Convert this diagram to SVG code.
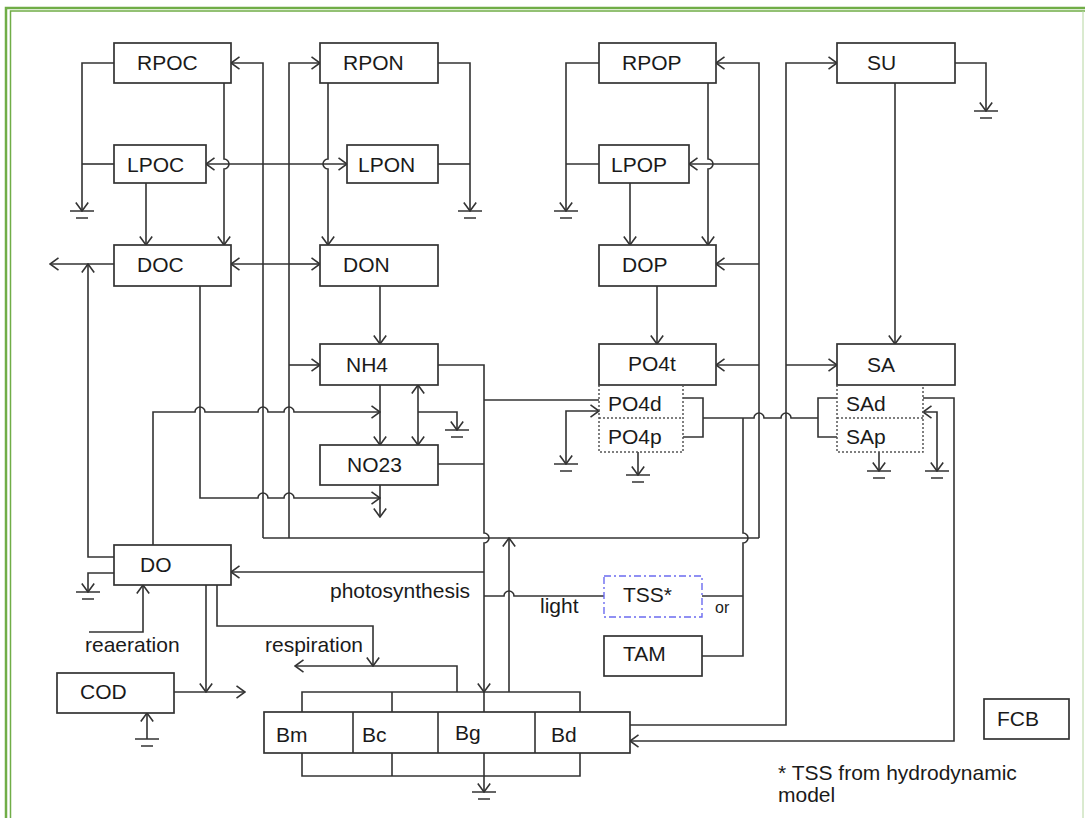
<svg xmlns="http://www.w3.org/2000/svg" width="1085" height="818" viewBox="0 0 1085 818">
<style>
.b{fill:#fff;stroke:#333;stroke-width:1.7}
.d{fill:none;stroke:#555;stroke-width:1.5;stroke-dasharray:2,2}
.c{fill:none;stroke:#333;stroke-width:1.6}
.a{marker-end:url(#ah)}
.s{marker-start:url(#ah)}
.t{font-family:"Liberation Sans",Arial,sans-serif;font-size:21px;fill:#1a1a1a}
.g{fill:none;stroke:#333;stroke-width:1.6}
</style>
<defs>
<marker id="ah" markerUnits="userSpaceOnUse" markerWidth="12" markerHeight="14" viewBox="0 0 12 14" refX="11" refY="7" orient="auto-start-reverse">
<path d="M2.5,0.8 L11,7 L2.5,13.2" fill="none" stroke="#333" stroke-width="1.6"/>
</marker>
<path id="gnd" d="M-12,0 H12 M-6,7 H6" class="g"/>
</defs>
<rect width="1085" height="818" fill="#fff"/>
<g id="border" fill="none" stroke="#70ad47">
<path d="M6,818 V8 H1085" stroke-width="2.5"/>
<path d="M10.5,818 V11 H1085" stroke-width="1.5"/>
<path d="M1083,11 V818" stroke-width="1" stroke="#b5d6a0"/>
</g>
<g id="connectors">
<path class="c a" d="M114,63 H82 V211"/>
<path class="c" d="M114,164 H82"/>
<path class="c a" d="M224,83 V159 A5,5 0 0 1 224,169 V245"/>
<path class="c a" d="M146,183 V245"/>
<path class="c a" d="M263,538 V63 H231"/>
<path class="c a" d="M289,164 H206"/>
<path class="c a" d="M289,164 H347"/>
<path class="c a" d="M328,83 V159 A5,5 0 0 0 328,169 V245"/>
<path class="c a" d="M289,264 H231"/>
<path class="c a" d="M289,264 H320"/>
<path class="c a" d="M289,538 V63 H320"/>
<path class="c a" d="M289,365 H320"/>
<path class="c a" d="M438,63 H470 V211"/>
<path class="c" d="M438,164 H470"/>
<path class="c a" d="M114,264 H50"/>
<path class="c a" d="M114,557 H88 V264"/>
<path class="c a" d="M114,573 H88 V592"/>
<path class="c a" d="M153,545 V412 H195 A5,5 0 0 1 205,412 H258 A5,5 0 0 1 268,412 H284 A5,5 0 0 1 294,412 H380"/>
<path class="c a" d="M200,286 V498 H258 A5,5 0 0 1 268,498 H284 A5,5 0 0 1 294,498 H380"/>
<path class="c a" d="M380,286 V344"/>
<path class="c a" d="M380,385 V445"/>
<path class="c a" d="M380,485 V517"/>
<path class="c a s" d="M418,385 V445"/>
<path class="c a" d="M418,412 H457 V430"/>
<path class="c a" d="M438,365 H484 V533 A5,5 0 0 1 484,543 V692"/>
<path class="c" d="M438,464 H484"/>
<path class="c" d="M484,400 H599"/>
<path class="c a" d="M484,572 H231"/>
<path class="c" d="M484,596 H504 A5,5 0 0 1 514,596 H604"/>
<path class="c" d="M263,538 H759"/>
<path class="c a" d="M759,538 V63 H716"/>
<path class="c a" d="M759,164 H689"/>
<path class="c a" d="M759,264 H716"/>
<path class="c a" d="M759,365 H716"/>
<path class="c a" d="M509,692 V538"/>
<path class="c a" d="M599,63 H566 V211"/>
<path class="c" d="M599,164 H566"/>
<path class="c a" d="M708,83 V159 A5,5 0 0 1 708,169 V245"/>
<path class="c a" d="M630,183 V245"/>
<path class="c a" d="M657,286 V344"/>
<path class="c a s" d="M566,464 V411 H599"/>
<path class="c a" d="M638,452 V475"/>
<path class="c" d="M683,398 H703 V437 H683"/>
<path class="c" d="M703,418 H754 A5,5 0 0 1 764,418 H781 A5,5 0 0 1 791,418 H818"/>
<path class="c" d="M837,398 H818 V437 H837"/>
<path class="c" d="M743,418 V533 A5,5 0 0 1 743,543 V656 H702"/>
<path class="c" d="M702,596 H743"/>
<path class="c a" d="M630,725 H786 V63 H837"/>
<path class="c a" d="M786,365 H837"/>
<path class="c a" d="M955,63 H986 V111"/>
<path class="c a" d="M895,83 V344"/>
<path class="c a" d="M879,452 V471"/>
<path class="c a s" d="M937,471 V412 H923"/>
<path class="c a" d="M923,398 H954 V741 H630"/>
<path class="c a" d="M89,632 H143 V585"/>
<path class="c a" d="M206,585 V692"/>
<path class="c a" d="M174,692 H245"/>
<path class="c a" d="M217,585 V626 H373 V666"/>
<path class="c a" d="M457,692 V666 H295"/>
<path class="c a" d="M147,739 V713"/>
<path class="c" d="M302,712 V692 H580 V712 M392,692 V712 M484,692 V712"/>
<path class="c" d="M302,753 V776 H580 V753 M392,776 V753"/>
<path class="c a" d="M484,753 V792"/>
<use href="#gnd" x="82" y="211"/>
<use href="#gnd" x="470" y="211"/>
<use href="#gnd" x="566" y="211"/>
<use href="#gnd" x="986" y="111"/>
<use href="#gnd" x="457" y="430"/>
<use href="#gnd" x="566" y="464"/>
<use href="#gnd" x="638" y="475"/>
<use href="#gnd" x="879" y="471"/>
<use href="#gnd" x="937" y="471"/>
<use href="#gnd" x="88" y="592"/>
<use href="#gnd" x="147" y="739"/>
<use href="#gnd" x="484" y="792"/>
</g>
<g id="RPOC"><rect class="b" x="114" y="43" width="117" height="40"/><text class="t" x="137" y="70">RPOC</text></g>
<g id="LPOC"><rect class="b" x="114" y="145" width="92" height="38"/><text class="t" x="127" y="172">LPOC</text></g>
<g id="DOC"><rect class="b" x="114" y="245" width="117" height="41"/><text class="t" x="137" y="272">DOC</text></g>
<g id="RPON"><rect class="b" x="320" y="43" width="118" height="40"/><text class="t" x="343" y="70">RPON</text></g>
<g id="LPON"><rect class="b" x="347" y="145" width="91" height="38"/><text class="t" x="358" y="172">LPON</text></g>
<g id="DON"><rect class="b" x="320" y="245" width="118" height="41"/><text class="t" x="343" y="272">DON</text></g>
<g id="RPOP"><rect class="b" x="599" y="43" width="117" height="40"/><text class="t" x="622" y="70">RPOP</text></g>
<g id="LPOP"><rect class="b" x="599" y="145" width="90" height="38"/><text class="t" x="611" y="172">LPOP</text></g>
<g id="DOP"><rect class="b" x="599" y="245" width="117" height="41"/><text class="t" x="622" y="272">DOP</text></g>
<g id="SU"><rect class="b" x="837" y="43" width="118" height="40"/><text class="t" x="867" y="70">SU</text></g>
<g id="NH4"><rect class="b" x="320" y="344" width="118" height="41"/><text class="t" x="346" y="372">NH4</text></g>
<g id="NO23"><rect class="b" x="320" y="445" width="118" height="40"/><text class="t" x="347" y="472">NO23</text></g>
<g id="PO4t"><rect class="b" x="599" y="344" width="117" height="41"/><text class="t" x="628" y="371">PO4t</text></g>
<g id="PO4dp"><path class="d" d="M599,385 V452 H683 V385 M599,418 H683"/><text class="t" x="608" y="411">PO4d</text><text class="t" x="608" y="444">PO4p</text></g>
<g id="SA"><rect class="b" x="837" y="344" width="118" height="41"/><text class="t" x="867" y="372">SA</text></g>
<g id="SAdp"><path class="d" d="M837,385 V452 H923 V385 M837,418 H923"/><text class="t" x="846" y="411">SAd</text><text class="t" x="846" y="444">SAp</text></g>
<g id="DO"><rect class="b" x="114" y="545" width="117" height="40"/><text class="t" x="140" y="572">DO</text></g>
<g id="COD"><rect class="b" x="57" y="673" width="117" height="40"/><text class="t" x="80" y="699">COD</text></g>
<g id="TSS"><rect x="604" y="576" width="98" height="41" fill="#fff" stroke="#6b6bf0" stroke-width="1.4" stroke-dasharray="7,3,2,3"/><text class="t" x="623" y="602">TSS*</text></g>
<g id="TAM"><rect class="b" x="604" y="636" width="98" height="40"/><text class="t" x="623" y="661">TAM</text></g>
<g id="Algae"><rect class="b" x="264" y="712" width="366" height="41"/><path class="c" d="M353,712 V753 M438,712 V753 M535,712 V753"/><text class="t" x="276" y="742">Bm</text><text class="t" x="362" y="742">Bc</text><text class="t" x="455" y="740">Bg</text><text class="t" x="551" y="742">Bd</text></g>
<g id="FCB"><rect class="b" x="984" y="699" width="85" height="40"/><text class="t" x="997" y="726">FCB</text></g>
<g id="labels">
<text class="t" x="330" y="598">photosynthesis</text>
<text class="t" x="540" y="613">light</text>
<text class="t" x="265" y="652">respiration</text>
<text class="t" x="85" y="652">reaeration</text>
<text class="t" x="715" y="613" style="font-size:16px">or</text>
<text class="t" x="778" y="780">* TSS from hydrodynamic</text>
<text class="t" x="778" y="802">model</text>
</g>
</svg>
